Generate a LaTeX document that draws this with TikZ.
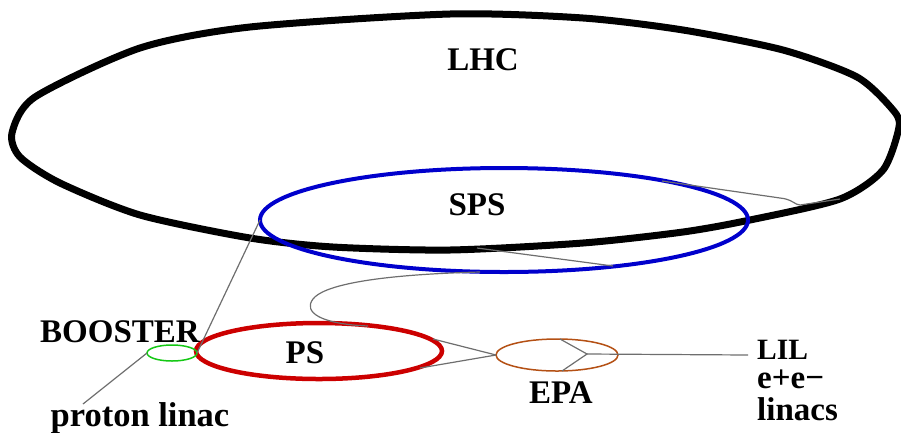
\documentclass[tikz,border=0pt]{standalone}
\usepackage{fontspec}
\setmainfont{Liberation Serif}
\usetikzlibrary{shapes.geometric}
\definecolor{spsblue}{RGB}{0,0,204}
\definecolor{psred}{RGB}{204,0,0}
\definecolor{boostgreen}{RGB}{20,200,20}
\definecolor{epabrown}{RGB}{180,80,20}
\definecolor{linegray}{RGB}{110,110,110}
\tikzset{
  ring/.style={ellipse, draw, inner sep=0pt, outer sep=0pt},
  lbl/.style={font=\bfseries\fontsize{33}{36}\selectfont, inner sep=0pt, anchor=base},
  transfer/.style={draw=linegray, line width=1.2pt},
}
\begin{document}
\begin{tikzpicture}[x=1pt, y=-1pt]
\useasboundingbox (0,0) rectangle (901,432);
% LHC ring
\draw[line width=7pt, line join=round] plot[smooth cycle, tension=0.45] coordinates {
  (450,14) (583,18) (683,30) (783,50) (857,77) (893,110) (899,127) (883,170)
  (840,199) (750,220) (683,232) (583,243) (450,250) (333,247) (250,238)
  (140,215) (60,183) (20,157) (12,133) (35,97) (140,48) (250,27)};
\node[lbl] (lhc) at (483,70) {LHC};
% SPS
\node[ring, draw=spsblue, line width=4pt, minimum width=488pt, minimum height=104pt] (sps) at (504,220) {};
\node[lbl] (spsl) at (477,215) {SPS};
% PS
\node[ring, draw=psred, line width=4.5pt, minimum width=246pt, minimum height=56pt] (ps) at (319,351) {};
\node[lbl] (psl) at (305,363) {PS};
% Booster
\node[ring, draw=boostgreen, line width=1.5pt, minimum width=50pt, minimum height=16pt] (booster) at (172,353) {};
\node[lbl] (boosterl) at (120,342) {BOOSTER};
\node[lbl, font=\bfseries\fontsize{34.5}{36}\selectfont] (linacl) at (140,426) {proton linac};
% EPA
\node[ring, draw=epabrown, line width=1.5pt, minimum width=122pt, minimum height=32pt] (epa) at (557,355) {};
\node[lbl] (epal) at (561,403) {EPA};
% LIL
\node[inner sep=0pt, anchor=north west, align=left, font=\bfseries\fontsize{33}{30}\selectfont] (lil) at (757,340)
  {{\fontsize{29.5}{30}\selectfont LIL}\\[-1pt] e+e−\\[2pt] linacs};
% connector coordinates
\coordinate (linacend) at (83,404);
\coordinate (pstap) at (368,326);
\coordinate (spsin) at (480,272);
\coordinate (spsout1) at (477,248);
\coordinate (spsout1b) at (613,266);
\coordinate (spsout2) at (662,181);
\coordinate (bend2) at (780,198);
\coordinate (lhcin2) at (840,199);
\coordinate (psout1) at (433,339);
\coordinate (psout2) at (420,368);
\coordinate (epatop) at (560,339);
\coordinate (epabot) at (562,371);
\coordinate (epamid) at (587,354);
\coordinate (lilend) at (748,355);
% transfer lines
\draw[transfer] (linacend) -- (booster.west);
\draw[transfer] (booster.east) -- (sps.west);
\draw[transfer] (pstap) .. controls (320,324) and (303,312) .. (313,299)
  .. controls (322,287) and (365,275) .. (spsin);
\draw[transfer] (spsout1) -- (spsout1b);
\draw[transfer] (spsout2) -- (bend2) .. controls (792,199) and (795,205) .. (800,205) -- (lhcin2);
\draw[transfer] (psout1) -- (epa.west);
\draw[transfer] (psout2) -- (epa.west);
\draw[transfer] (epatop) -- (epamid) -- (epabot);
\draw[transfer] (epamid) -- (lilend);
\end{tikzpicture}
\end{document}
